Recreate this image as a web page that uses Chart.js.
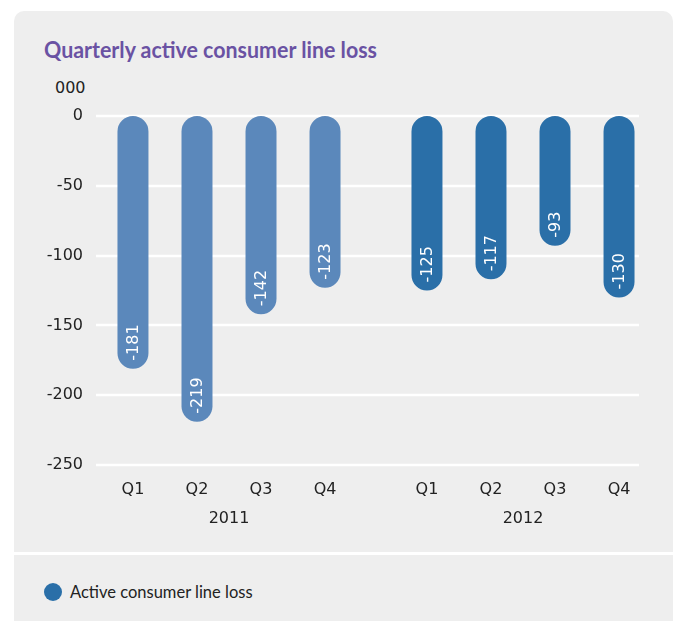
<!DOCTYPE html>
<html>
<head>
<meta charset="utf-8">
<script src="https://cdn.jsdelivr.net/npm/chart.js@4"></script>
<style>
  html, body { margin: 0; padding: 0; background: #ffffff; width: 678px; height: 621px; overflow: hidden; }
  .panel { position: absolute; background: #eeeeee; }
  #top { left: 14px; top: 11px; width: 659px; height: 541px; border-radius: 10px 10px 0 0; }
  #bottom { left: 14px; top: 555px; width: 659px; height: 66px; }
  #title { position: absolute; left: 44px; top: 36px; font-family: Lato, "Open Sans", sans-serif; font-weight: bold; font-size: 22px; color: #6a52a3; white-space: nowrap; transform-origin: 0 50%; }
  #unit { position: absolute; left: 55px; top: 78px; font-family: "DejaVu Sans", sans-serif; font-size: 16px; color: #222; }
  #legend { position: absolute; left: 44px; top: 582px; font-family: Lato, "Open Sans", sans-serif; font-size: 16.5px; color: #222; display: flex; align-items: center; white-space: nowrap; }
  #legend .dot { width: 18px; height: 18px; border-radius: 50%; background: #2a6fa8; margin-right: 8px; }
  canvas { position: absolute; left: 0; top: 0; }
</style>
</head>
<body>
<div class="panel" id="top"></div>
<div class="panel" id="bottom"></div>
<div id="title">Quarterly active consumer line loss</div>
<div id="unit">000</div>
<div id="legend"><span class="dot"></span><span>Active consumer line loss</span></div>
<canvas id="c" width="678" height="621"></canvas>
<script>
const years = ['2011', '2012'];
const quarters = ['Q1', 'Q2', 'Q3', 'Q4'];
const loss2011 = [-181, -219, -142, -123];
const loss2012 = [-125, -117, -93, -130];
const yearColors = ['#5b88bb', '#2a6fa8'];
const yTicks = [0, -50, -100, -150, -200, -250];

// fit title width to the reference's condensed face
(function () {
  const t = document.getElementById('title');
  const w = t.getBoundingClientRect().width;
  if (w > 0) t.style.transform = 'scaleX(' + (333 / w) + ')';
})();

const datasets = quarters.map((q, i) => ({
  label: q,
  data: [loss2011[i], loss2012[i]],
  backgroundColor: yearColors,
  borderRadius: 20,
  borderSkipped: false,
  categoryPercentage: 0.871,
  barPercentage: 0.484
}));

const gridPlugin = {
  id: 'gridLines',
  beforeDatasetsDraw(chart) {
    const ctx = chart.ctx, y = chart.scales.y, a = chart.chartArea;
    ctx.save();
    ctx.strokeStyle = '#ffffff';
    ctx.lineWidth = 2.5;
    y.ticks.forEach(t => {
      const py = Math.round(y.getPixelForValue(t.value));
      ctx.beginPath();
      ctx.moveTo(a.left + 14, py);
      ctx.lineTo(a.right - 31, py);
      ctx.stroke();
    });
    ctx.restore();
  }
};

const labelPlugin = {
  id: 'barLabels',
  afterDatasetsDraw(chart) {
    const ctx = chart.ctx, a = chart.chartArea;
    ctx.save();
    chart.data.datasets.forEach((ds, di) => {
      const meta = chart.getDatasetMeta(di);
      meta.data.forEach((el, i) => {
        ctx.save();
        ctx.translate(el.x, el.y - 8);
        ctx.rotate(-Math.PI / 2);
        ctx.font = '16px "DejaVu Sans"';
        ctx.fillStyle = '#ffffff';
        ctx.textAlign = 'left';
        ctx.textBaseline = 'middle';
        ctx.fillText(String(ds.data[i]), 0, 1);
        ctx.restore();
        ctx.font = '16px "DejaVu Sans"';
        ctx.fillStyle = '#222222';
        ctx.textAlign = 'center';
        ctx.textBaseline = 'middle';
        ctx.fillText(ds.label, el.x, a.bottom + 25);
      });
    });
    ctx.restore();
  }
};

new Chart(document.getElementById('c'), {
  type: 'bar',
  data: { labels: years, datasets },
  options: {
    responsive: false,
    animation: false,
    devicePixelRatio: 1,
    layout: { padding: { top: 116, right: 8, bottom: 96, left: 0 } },
    plugins: {
      legend: { display: false },
      title: { display: false },
      tooltip: { enabled: false }
    },
    scales: {
      x: {
        grid: { display: false, drawTicks: false },
        border: { display: false },
        ticks: { font: { family: 'DejaVu Sans', size: 16 }, color: '#222222', padding: 44 },
        afterFit(axis) { axis.height = 60; }
      },
      y: {
        min: -250, max: 0,
        afterBuildTicks(axis) { axis.ticks = yTicks.map(v => ({ value: v })); },
        grid: { display: false, drawTicks: false },
        border: { display: false },
        ticks: { font: { family: 'DejaVu Sans', size: 16 }, color: '#222222', padding: -1 },
        afterFit(axis) { axis.width = 82; }
      }
    }
  },
  plugins: [gridPlugin, labelPlugin]
});
</script>
</body>
</html>
